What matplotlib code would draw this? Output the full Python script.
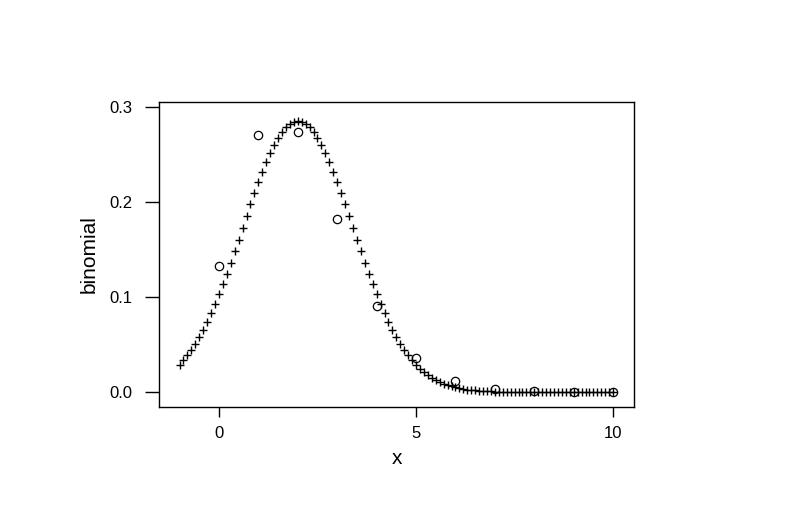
import matplotlib
matplotlib.use("Agg")
from matplotlib import pyplot as plt

# Binomial probabilities at the integers 0..10 (circles)
binom_x = [0, 1, 2, 3, 4, 5, 6, 7, 8, 9, 10]
binom_p = [0.1326, 0.2707, 0.2734, 0.1823, 0.0902, 0.0353, 0.0114, 0.0031,
           0.0007, 0.0002, 0.0000]

# Normal approximation read at x = -1.0, -0.9, ..., 10.0 (crosses)
norm_x = [round(-1 + 0.1 * i, 1) for i in range(111)]
norm_y = [
    0.0287, 0.0333, 0.0386, 0.0444, 0.0508, 0.0579, 0.0656, 0.0739, 0.0829, 0.0925,
    0.1027, 0.1135, 0.1247, 0.1363, 0.1483, 0.1605, 0.1728, 0.1852, 0.1974, 0.2093,
    0.2208, 0.2318, 0.2420, 0.2515, 0.2600, 0.2674, 0.2736, 0.2785, 0.2821, 0.2842,
    0.2850,
    0.2842, 0.2821, 0.2785, 0.2736, 0.2674, 0.2600, 0.2515, 0.2420, 0.2318, 0.2208,
    0.2093, 0.1974, 0.1852, 0.1728, 0.1605, 0.1483, 0.1363, 0.1247, 0.1135, 0.1027,
    0.0925, 0.0829, 0.0739, 0.0656, 0.0579, 0.0508, 0.0444, 0.0386, 0.0333, 0.0287,
    0.0246, 0.0209, 0.0177, 0.0149, 0.0125, 0.0104, 0.0087, 0.0072, 0.0059, 0.0048,
    0.0039, 0.0032, 0.0025, 0.0020, 0.0016, 0.0013, 0.0010, 0.0008, 0.0006, 0.0005,
    0.0004, 0.0003, 0.0002, 0.0002, 0.0001, 0.0001, 0.0001, 0.0000, 0.0000, 0.0000,
    0.0000, 0.0000, 0.0000, 0.0000, 0.0000, 0.0000, 0.0000, 0.0000, 0.0000, 0.0000,
    0.0000, 0.0000, 0.0000, 0.0000, 0.0000, 0.0000, 0.0000, 0.0000, 0.0000, 0.0000,
]

x_ticks = [0, 5, 10]
y_ticks = [0.0, 0.1, 0.2, 0.3]

plt.rcParams["font.family"] = ["Liberation Sans", "DejaVu Sans"]

fig = plt.figure(figsize=(7.94, 5.09), dpi=100)
ax = fig.add_axes([0.2003, 0.2004, 0.5982, 0.5992])

ax.plot(norm_x, norm_y, linestyle="none", marker="+", markersize=5.5,
        markeredgewidth=1.0, color="black")
ax.plot(binom_x, binom_p, linestyle="none", marker="o", markersize=6,
        markerfacecolor="none", markeredgewidth=0.9, color="black")

ax.set_xlim(-1.52, 10.53)
ax.set_ylim(-0.0158, 0.3053)

ax.set_xticks(x_ticks)
ax.set_xticklabels([str(t) for t in x_ticks])
ax.set_yticks(y_ticks)
ax.set_yticklabels([f"{t:.1f}" for t in y_ticks])

ax.tick_params(axis="x", direction="out", length=7.5, width=1, pad=6, labelsize=12)
ax.tick_params(axis="y", direction="out", length=10, width=1, pad=9, labelsize=12)

for s in ax.spines.values():
    s.set_linewidth(1)

ax.set_xlabel("x", fontsize=15, labelpad=6)
ax.set_ylabel("binomial", fontsize=15, labelpad=8)

fig.savefig("out.png", dpi=100)
